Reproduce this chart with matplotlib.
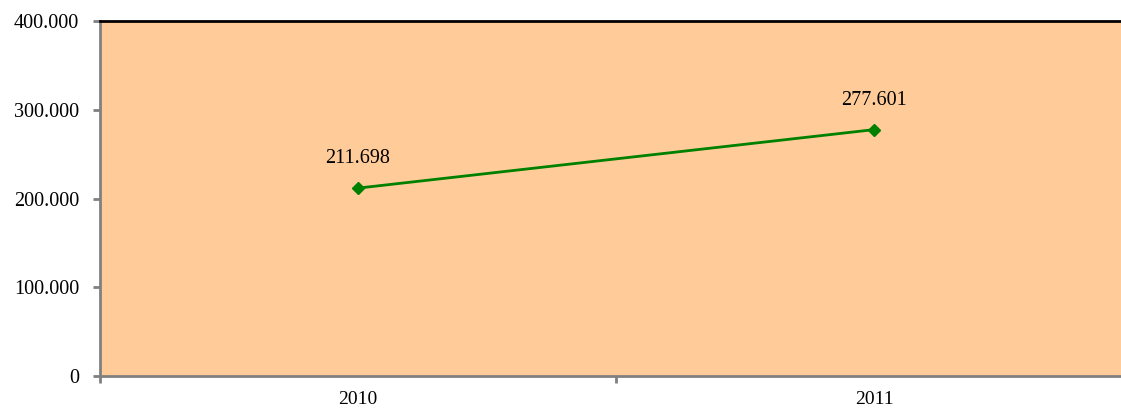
import matplotlib.pyplot as plt
from matplotlib.ticker import FuncFormatter

years = ["2010", "2011"]
values = [211.698, 277.601]
y_ticks = [0, 100, 200, 300, 400]

plt.rcParams['font.family'] = ['Liberation Serif', 'DejaVu Serif']

W, H = 1121, 408
fig = plt.figure(figsize=(W / 100, H / 100), dpi=100)
# plot area runs past the right edge of the image, as in the reference
ax = fig.add_axes([100 / W, (H - 376) / H, (1132 - 100) / W, (376 - 21) / H])
ax.set_facecolor("#FFCC99")

x = list(range(len(years)))
ax.plot(x, values, color="#008000", lw=2, marker="D", markersize=6.5)
for xi, v in zip(x, values):
    ax.annotate(f"{v:.3f}", (xi, v), xytext=(0, 21), textcoords="offset points",
                ha="center", va="center", fontsize=14.5)

ax.set_xlim(-0.5, len(years) - 0.5)
ax.set_ylim(0, 400)
ax.set_yticks(y_ticks)
ax.yaxis.set_major_formatter(FuncFormatter(lambda v, p: "0" if v == 0 else f"{v:.3f}"))
ax.set_xticks(x)
ax.set_xticklabels(years)
ax.set_xticks([-0.5, 0.5, 1.5], minor=True)
ax.tick_params(axis="x", which="major", length=0, pad=11, labelsize=14)
ax.tick_params(axis="x", which="minor", length=5, width=2, color="#808080")
ax.tick_params(axis="y", length=5, width=2, color="#808080", labelsize=14.5, pad=10)

ax.spines["top"].set_color("black")
ax.spines["top"].set_linewidth(2)
for s in ("left", "bottom"):
    ax.spines[s].set_color("#808080")
    ax.spines[s].set_linewidth(2)
ax.spines["right"].set_visible(False)

fig.savefig("out.png", dpi=100)
